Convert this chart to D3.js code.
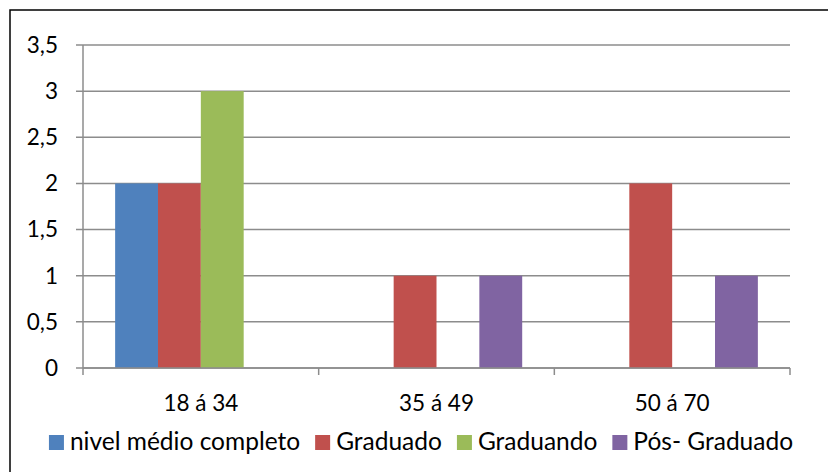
<!DOCTYPE html>
<html><head><meta charset="utf-8">
<script src="https://cdn.jsdelivr.net/npm/d3@7"></script>
<style>body{margin:0;background:#fff}svg{display:block}text{font-family:Lato,"Open Sans",sans-serif;fill:#000}</style>
</head><body>
<script>
const categories = ["18 á 34", "35 á 49", "50 á 70"];
const seriesNames = ["nivel médio completo", "Graduado", "Graduando", "Pós- Graduado"];
const nivelMedio = [2, 0, 0];
const graduado = [2, 1, 2];
const graduando = [3, 0, 0];
const posGraduado = [0, 1, 1];
const yTicks = [0, 0.5, 1, 1.5, 2, 2.5, 3, 3.5];
const colors = ["#4F81BD", "#C0504D", "#9BBB59", "#8064A2"];

const values = [nivelMedio, graduado, graduando, posGraduado];
const W = 828, H = 472;
const fs = 22.5, lfs = 24.5;
const svg = d3.select("body").append("svg").attr("width", W).attr("height", H);

svg.append("rect").attr("x", 10).attr("y", 10).attr("width", W).attr("height", H)
  .attr("fill", "none").attr("stroke", "#000").attr("stroke-width", 1.5);

const pLeft = 83, pRight = 790, pTop = 45, pBottom = 368;
const x0 = d3.scaleBand().domain(categories).range([pLeft, pRight]).padding(0);
const x1 = d3.scaleBand().domain(seriesNames).range([0, x0.bandwidth()]).paddingInner(0).paddingOuter(0.75);
const y = d3.scaleLinear().domain([0, 3.5]).range([pBottom, pTop]);

// gridlines
svg.append("g").selectAll("line").data(yTicks).join("line")
  .attr("x1", pLeft - 7).attr("x2", pRight)
  .attr("y1", d => y(d)).attr("y2", d => y(d))
  .attr("stroke", "#8c8c8c").attr("stroke-width", 1.5);

// bars
const data = [];
categories.forEach((c, i) => seriesNames.forEach((s, j) => {
  if (values[j][i] > 0) data.push({c, s, v: values[j][i], col: colors[j]});
}));
svg.append("g").selectAll("rect").data(data).join("rect")
  .attr("x", d => x0(d.c) + x1(d.s))
  .attr("width", x1.bandwidth())
  .attr("y", d => y(d.v))
  .attr("height", d => y(0) - y(d.v))
  .attr("fill", d => d.col);

// y axis line
svg.append("line").attr("x1", pLeft).attr("x2", pLeft).attr("y1", pTop).attr("y2", pBottom)
  .attr("stroke", "#8c8c8c").attr("stroke-width", 1.5);

// y labels
svg.append("g").selectAll("text").data(yTicks).join("text")
  .attr("x", 58).attr("y", d => y(d)).attr("dy", "0.35em")
  .attr("text-anchor", "end").attr("font-size", fs)
  .text(d => String(d).replace(".", ","));

// x axis
const xTicks = categories.map(c => x0(c)).concat([pRight]);
svg.append("line").attr("x1", pLeft).attr("x2", pRight).attr("y1", pBottom).attr("y2", pBottom)
  .attr("stroke", "#8c8c8c").attr("stroke-width", 1.5);
svg.append("g").selectAll("line").data(xTicks).join("line")
  .attr("x1", d => d).attr("x2", d => d).attr("y1", pBottom).attr("y2", pBottom + 7)
  .attr("stroke", "#8c8c8c").attr("stroke-width", 1.5);
svg.append("g").selectAll("text").data(categories).join("text")
  .attr("x", d => x0(d) + x0.bandwidth() / 2).attr("y", 411)
  .attr("text-anchor", "middle").attr("font-size", fs).text(d => d);

// legend
const lg = svg.append("g");
const items = lg.selectAll("g").data(seriesNames).join("g");
items.append("rect").attr("width", 15).attr("height", 15).attr("y", 435)
  .attr("fill", (d, i) => colors[i]);
items.append("text").attr("x", 21).attr("y", 450).attr("font-size", lfs).text(d => d);
const widths = [];
items.each(function() { widths.push(d3.select(this).select("text").node().getComputedTextLength()); });
const gap = 15;
const total = widths.reduce((a, w) => a + 21 + w, 0) + gap * (widths.length - 1);
let start = 421 - total / 2;
items.attr("transform", (d, i) => {
  const t = `translate(${start},0)`;
  start += 21 + widths[i] + gap;
  return t;
});
</script>
</body></html>
